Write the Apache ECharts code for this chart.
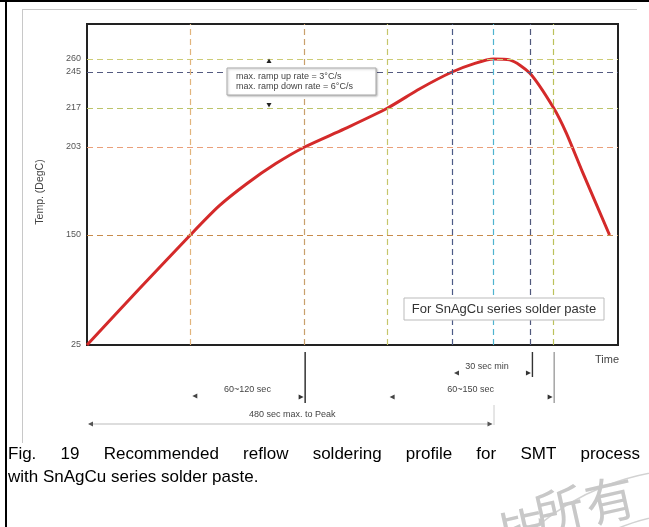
<!DOCTYPE html>
<html>
<head>
<meta charset="utf-8">
<script src="https://cdn.jsdelivr.net/npm/echarts@6/dist/echarts.min.js"></script>
<style>
  html, body { margin: 0; padding: 0; background: #fff; }
  #chart { width: 649px; height: 527px; }
</style>
</head>
<body>
<div id="chart"></div>
<script>
// Reflow profile: time (s) and temperature (°C)
const timeSec = [0, 61, 122, 156, 189, 223, 257, 304, 355, 393, 431, 458, 480, 499, 523, 551, 566, 585, 617];
const tempC   = [25, 88, 150, 167.5, 181, 193, 203, 209.5, 217, 232, 245, 255, 260, 259, 244, 217, 208, 188, 150];

// Temperature levels labelled on the axis
const levelTemps  = [25, 150, 203, 217, 245, 260];
const levelLabels = ['25', '150', '203', '217', '245', '260'];

// Time marks (s)
const guideTimes = [122, 257, 355, 431, 480, 523, 551];

// Spans annotated below the time axis
const spanFrom  = [122, 431, 355, 0];
const spanTo    = [257, 523, 551, 480];
const spanTexts = ['60~120 sec', '30 sec min', '60~150 sec', '480 sec max. to Peak'];

const rampLines    = ['max. ramp up rate = 3°C/s', 'max. ramp down rate = 6°C/s'];
const pasteNote    = 'For SnAgCu series solder paste';
const captionLine1 = 'Fig. 19 Recommended reflow soldering profile for SMT process';
const captionLine2 = 'with SnAgCu series solder paste.';

// The temperature axis is schematic (not linear): each labelled level sits at a
// fixed axis position, and values in between are placed piecewise-linearly.
const AXIS_STOPS = [0, 110, 198, 237, 273, 286];
const AXIS_MAX = 321;
function tempToAxis(t) {
  const n = levelTemps.length;
  if (t <= levelTemps[0]) return AXIS_STOPS[0];
  for (let i = 1; i < n; i++) {
    if (t <= levelTemps[i]) {
      const f = (t - levelTemps[i - 1]) / (levelTemps[i] - levelTemps[i - 1]);
      return AXIS_STOPS[i - 1] + f * (AXIS_STOPS[i] - AXIS_STOPS[i - 1]);
    }
  }
  const slope = (AXIS_STOPS[n - 1] - AXIS_STOPS[n - 2]) / (levelTemps[n - 1] - levelTemps[n - 2]);
  return AXIS_STOPS[n - 1] + (t - levelTemps[n - 1]) * slope;
}

const levelColors = ['rgba(0,0,0,0)', '#c88c4c', '#eaa07a', '#bcc46a', '#545a80', '#cdcc76'];
const guideColors = ['#e2b47c', '#c9a06c', '#c6c66a', '#4c5a86', '#4fb4d0', '#50587c', '#bcc25c'];

const curveData = timeSec.map((t, i) => [t, tempToAxis(tempC[i])]);

const chart = echarts.init(document.getElementById('chart'), null, { renderer: 'canvas' });

const dash = [6, 4];
const hLines = levelTemps.map((t, i) => ({
  yAxis: tempToAxis(t),
  lineStyle: { color: levelColors[i], width: 1.2, type: dash },
  label: {
    show: true, position: 'start', distance: 6, formatter: levelLabels[i],
    color: '#555', fontSize: 9, fontFamily: 'Liberation Sans'
  }
}));
const vLines = guideTimes.map((t, i) => ({
  xAxis: t,
  lineStyle: { color: guideColors[i], width: 1.2, type: dash },
  label: { show: false }
}));

chart.setOption({
  animation: false,
  grid: {
    left: 87, top: 24, right: 31, bottom: 182,
    show: true, borderColor: '#222', borderWidth: 2, backgroundColor: 'transparent'
  },
  xAxis: {
    type: 'value', min: 0, max: 627,
    axisLine: { show: false }, axisTick: { show: false },
    axisLabel: { show: false }, splitLine: { show: false }
  },
  yAxis: {
    type: 'value', min: 0, max: AXIS_MAX,
    axisLine: { show: false }, axisTick: { show: false },
    axisLabel: { show: false }, splitLine: { show: false }
  },
  series: [
    {
      name: 'guides', type: 'line', data: [], z: 1,
      markLine: {
        silent: true, symbol: 'none', animation: false,
        data: hLines.concat(vLines)
      }
    },
    {
      name: 'profile', type: 'line', data: curveData, z: 3,
      smooth: 0.25, showSymbol: false,
      lineStyle: { color: '#d42a2a', width: 3 }
    }
  ]
});

// Annotations placed through the time axis
const px = t => chart.convertToPixel({ xAxisIndex: 0 }, t);
const annFont = '9px "Liberation Sans"';
const g = [];

function tri(x, y, dir, color) {
  const s = 5, h = 2.6;
  const pts = dir > 0 ? [[x, y], [x - s, y - h], [x - s, y + h]] : [[x, y], [x + s, y - h], [x + s, y + h]];
  g.push({ type: 'polygon', shape: { points: pts }, style: { fill: color || '#222' } });
}
function vline(x, y1, y2, color, w) {
  g.push({ type: 'line', shape: { x1: x, y1: y1, x2: x, y2: y2 }, style: { stroke: color, lineWidth: w } });
}
function text(x, y, s, font, fill, align, valign) {
  g.push({ type: 'text', x: x, y: y,
    style: { text: s, font: font, fill: fill, align: align || 'center', verticalAlign: valign || 'middle' } });
}

// 60~120 sec
vline(px(spanTo[0]) + 0.5, 352, 403, '#333', 1.5);
tri(px(spanFrom[0]) + 2, 396, -1, '#444');
tri(px(spanTo[0]) - 1, 397, 1, '#333');
text((px(spanFrom[0]) + px(spanTo[0])) / 2, 390, spanTexts[0], annFont, '#444');
// 30 sec min
vline(px(spanTo[1]) + 2.5, 352, 377, '#333', 1.4);
tri(px(spanFrom[1]) + 2, 373, -1, '#444');
tri(px(spanTo[1]) + 1, 373, 1, '#333');
text((px(spanFrom[1]) + px(spanTo[1])) / 2 - 4, 367, spanTexts[1], annFont, '#444');
// 60~150 sec
vline(px(spanTo[2]) + 0.5, 352, 403, '#777', 1);
tri(px(spanFrom[2]) + 2, 397, -1, '#444');
tri(px(spanTo[2]) - 1, 397, 1, '#333');
text((px(spanFrom[2]) + px(spanTo[2])) / 2, 390, spanTexts[2], annFont, '#444');
// 480 sec to peak
vline(px(spanTo[3]) + 0.5, 405, 425, '#ccc', 1);
g.push({ type: 'line', shape: { x1: px(spanFrom[3]) + 2, y1: 424, x2: px(spanTo[3]) - 2, y2: 424 },
  style: { stroke: '#bbb', lineWidth: 1 } });
tri(px(spanFrom[3]) + 1, 424, -1, '#555');
tri(px(spanTo[3]) - 1, 424, 1, '#555');
text((px(spanFrom[3]) + px(spanTo[3])) / 2 + 2, 415, spanTexts[3], annFont, '#444');

// Axis titles
g.push({ type: 'text', x: 40, y: 192, rotation: Math.PI / 2,
  style: { text: 'Temp. (DegC)', font: '10.5px "Liberation Sans"', fill: '#444', align: 'center', verticalAlign: 'middle' } });
text(607, 360, 'Time', '11px "Liberation Sans"', '#444');

// Ramp-rate note with its arrows
g.push({ type: 'rect', shape: { x: 227, y: 68, width: 149, height: 27 },
  style: { fill: '#fff', stroke: '#aaa', lineWidth: 1, shadowBlur: 2, shadowColor: 'rgba(0,0,0,0.25)', shadowOffsetX: 1, shadowOffsetY: 1 }, z: 10 });
g.push({ type: 'text', x: 236, y: 77, z: 11,
  style: { text: rampLines[0], font: annFont, fill: '#444', align: 'left', verticalAlign: 'middle' } });
g.push({ type: 'text', x: 236, y: 87, z: 11,
  style: { text: rampLines[1], font: annFont, fill: '#444', align: 'left', verticalAlign: 'middle' } });
g.push({ type: 'polygon', shape: { points: [[269, 58.5], [266.5, 63], [271.5, 63]] }, style: { fill: '#222' }, z: 11 });
g.push({ type: 'polygon', shape: { points: [[269, 107.5], [266.5, 103], [271.5, 103]] }, style: { fill: '#222' }, z: 11 });

// Solder paste note
g.push({ type: 'rect', shape: { x: 404, y: 298, width: 200, height: 22 },
  style: { fill: '#fff', stroke: '#bbb', lineWidth: 1 }, z: 10 });
g.push({ type: 'text', x: 504, y: 309.5, z: 11,
  style: { text: pasteNote, font: '13px "Liberation Sans"', fill: '#333', align: 'center', verticalAlign: 'middle' } });

// Page frame
g.push({ type: 'line', shape: { x1: 0, y1: 1, x2: 649, y2: 1 }, style: { stroke: '#000', lineWidth: 2 } });
g.push({ type: 'line', shape: { x1: 6, y1: 0, x2: 6, y2: 527 }, style: { stroke: '#000', lineWidth: 2 } });
g.push({ type: 'line', shape: { x1: 22, y1: 9.5, x2: 637, y2: 9.5 }, style: { stroke: '#c8c8c8', lineWidth: 1 } });
g.push({ type: 'line', shape: { x1: 22.5, y1: 9, x2: 22.5, y2: 443 }, style: { stroke: '#c8c8c8', lineWidth: 1 } });

// Caption, first line justified between the frame margins
const capFont = '17px "Liberation Sans"';
const ctx = document.createElement('canvas').getContext('2d');
ctx.font = capFont;
const words = captionLine1.split(' ');
const widths = words.map(w => ctx.measureText(w).width);
const total = widths.reduce((a, b) => a + b, 0);
const capLeft = 8, capRight = 640;
const gap = (capRight - capLeft - total) / (words.length - 1);
let cx = capLeft;
words.forEach((w, i) => {
  text(cx, 454, w, capFont, '#000', 'left');
  cx += widths[i] + gap;
});
text(capLeft, 477, captionLine2, capFont, '#000', 'left');

// Faint seal watermark in the corner
g.push({ type: 'arc', shape: { cx: 695, cy: 715, r: 246, startAngle: Math.PI, endAngle: Math.PI * 1.6 },
  style: { stroke: '#d2d2d2', lineWidth: 1.5, fill: null } });
g.push({ type: 'arc', shape: { cx: 695, cy: 715, r: 202, startAngle: Math.PI * 1.2, endAngle: Math.PI * 1.6 },
  style: { stroke: '#d2d2d2', lineWidth: 1.5, fill: null } });
const sealChars = ['皆', '所', '有'];
const sealPos = [[522, 532], [559, 510], [610, 500]];
sealChars.forEach((c, i) => {
  g.push({ type: 'text', x: sealPos[i][0], y: sealPos[i][1], rotation: 0.22,
    style: { text: c, font: '50px "Noto Sans CJK TC"', fill: '#c8c8c8', align: 'center', verticalAlign: 'middle' } });
});

chart.setOption({ graphic: { elements: g } });
</script>
</body>
</html>
